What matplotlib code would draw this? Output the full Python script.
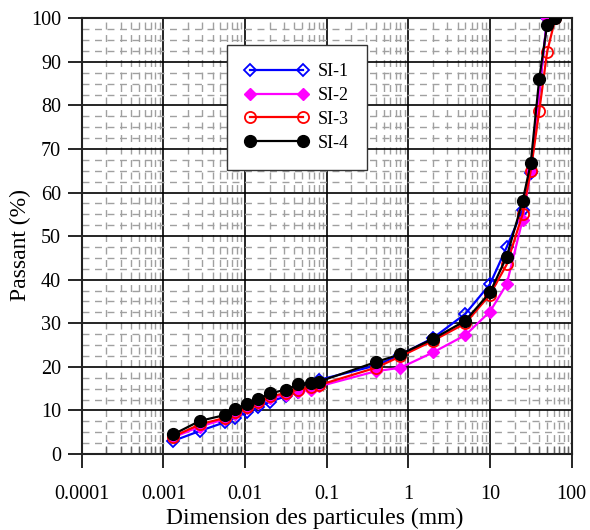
import matplotlib
matplotlib.use("Agg")
import matplotlib.pyplot as plt
from matplotlib import ticker

plt.rcParams['font.family'] = ['Liberation Serif', 'DejaVu Serif']

# ---- data ----
x_fine = [0.00132, 0.0028, 0.0057, 0.0075, 0.0105, 0.0146, 0.0202, 0.032, 0.045, 0.065, 0.08]
x_sieve = [0.4, 0.8, 2, 5, 10, 16, 25, 31.5, 40, 50, 63]

si1_x = x_fine + [0.4, 0.8, 2, 5, 10, 16, 25, 31.5, 50]
si1_y = [3.0, 5.3, 7.3, 8.3, 9.6, 10.8, 12.0, 13.3, 14.2, 15.8, 17.0,
         20.3, 22.8, 26.6, 32.2, 39.0, 47.5, 56.0, 64.4, 100]

si2_x = x_fine + [0.4, 0.8, 2, 5, 10, 16, 25, 31.5, 50]
si2_y = [3.8, 6.3, 8.0, 9.2, 10.5, 11.7, 12.8, 13.6, 14.3, 14.8, 15.5,
         19.0, 19.8, 23.3, 27.3, 32.7, 39.0, 53.7, 65.0, 100]

si3_x = x_fine + [0.4, 0.8, 2, 5, 10, 16, 25, 31.5, 40, 50, 63]
si3_y = [4.0, 6.8, 8.3, 9.6, 10.9, 12.0, 13.2, 14.0, 14.8, 15.3, 15.8,
         19.8, 22.4, 26.0, 30.0, 36.6, 43.5, 55.0, 65.0, 78.7, 92.3, 100]

si4_x = x_fine + x_sieve
si4_y = [4.5, 7.6, 8.95, 10.3, 11.5, 12.7, 13.9, 14.8, 16.0, 16.4, 16.6,
         21.1, 22.9, 26.4, 30.6, 37.1, 45.3, 58.0, 66.7, 86.1, 98.5, 100]

xticks = [0.0001, 0.001, 0.01, 0.1, 1, 10, 100]
yticks = [0, 10, 20, 30, 40, 50, 60, 70, 80, 90, 100]

fig = plt.figure(figsize=(5.9, 5.3), dpi=100)
ax = fig.add_axes([0.1385, 0.1434, 0.8305, 0.8221])

ax.set_xscale('log')
ax.set_xlim(1e-4, 100)
ax.set_ylim(0, 100)

ax.plot(si1_x, si1_y, color='#0000ff', lw=1.6, marker='D', ms=6, mfc='none',
        mec='#0000ff', mew=1.3, label='SI-1', zorder=5)
ax.plot(si2_x, si2_y, color='#ff00ff', lw=1.6, marker='D', ms=6, mfc='#ff00ff',
        mec='#ff00ff', label='SI-2', zorder=6)
ax.plot(si3_x, si3_y, color='#ff0000', lw=1.6, marker='o', ms=8, mfc='none',
        mec='#ff0000', mew=1.3, label='SI-3', zorder=7)
ax.plot(si4_x, si4_y, color='black', lw=1.6, marker='o', ms=8.5, mfc='black',
        mec='black', label='SI-4', zorder=8)

ax.set_xticks(xticks)
ax.xaxis.set_major_formatter(ticker.FuncFormatter(lambda v, p: '%g' % v))
ax.xaxis.set_minor_locator(ticker.LogLocator(base=10, subs=range(2, 10), numticks=20))
ax.xaxis.set_minor_formatter(ticker.NullFormatter())
ax.set_yticks(yticks)
ax.yaxis.set_minor_locator(ticker.MultipleLocator(2.5))

ax.grid(which='major', color='black', lw=1.2, ls='-')
ax.grid(which='minor', color='#a0a0a0', lw=1.0, ls=(0, (5, 4)))
ax.set_axisbelow(True)

ax.tick_params(which='major', direction='out', length=10, width=1.2,
               labelsize=14.5, colors='black')
ax.tick_params(axis='x', which='major', pad=12)
ax.tick_params(axis='y', which='major', pad=5)
ax.tick_params(which='minor', direction='in', length=6, width=1.0, color='#666666')
ax.tick_params(axis='y', which='minor', length=0)

for s in ax.spines.values():
    s.set_linewidth(1.5)
    s.set_color('#222222')

ax.set_xlabel('Dimension des particules (mm)', fontsize=17)
ax.xaxis.set_label_coords(0.476, -0.148)
ax.set_ylabel('Passant (%)', fontsize=17)
ax.yaxis.set_label_coords(-0.126, 0.48)
ax.yaxis.label.set_verticalalignment('center')
ax.xaxis.label.set_verticalalignment('center')

leg = ax.legend(loc='upper left', bbox_to_anchor=(0.2965, 0.9387), fontsize=13,
                handlelength=3.5, numpoints=2, frameon=True, fancybox=False,
                borderpad=1.0, labelspacing=0.38, handletextpad=0.55,
                borderaxespad=0)
leg.get_frame().set_edgecolor('#333333')
leg.get_frame().set_linewidth(1.0)
leg.get_frame().set_alpha(1.0)
leg.set_zorder(20)

fig.savefig('out.png', dpi=100)
